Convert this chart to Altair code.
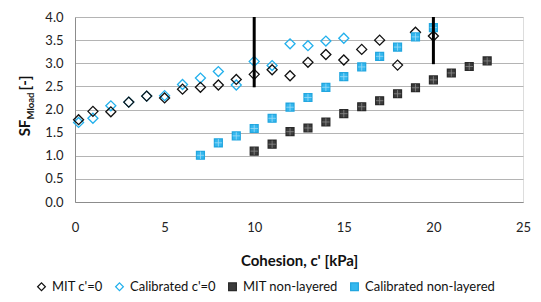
import altair as alt
import pandas as pd

# ---- data ----
mit_c0_x = [0.2, 1, 2, 3, 4, 5, 6, 7, 8, 9, 10, 11, 12, 13, 14, 15, 16, 17, 18, 19, 20]
mit_c0_y = [1.78, 1.96, 1.95, 2.16, 2.29, 2.25, 2.44, 2.48, 2.53, 2.65, 2.76, 2.86, 2.73,
            3.02, 3.19, 3.07, 3.30, 3.50, 2.96, 3.67, 3.59]
cal_c0_x = [0.2, 1, 2, 3, 4, 5, 6, 7, 8, 9, 10, 11, 12, 13, 14, 15]
cal_c0_y = [1.72, 1.81, 2.08, 2.16, 2.29, 2.30, 2.54, 2.68, 2.82, 2.53, 3.04, 2.95, 3.42,
            3.38, 3.48, 3.54]
mit_nl_x = [10, 11, 12, 13, 14, 15, 16, 17, 18, 19, 20, 21, 22, 23]
mit_nl_y = [1.10, 1.25, 1.52, 1.60, 1.73, 1.91, 2.06, 2.19, 2.34, 2.47, 2.64, 2.79, 2.93, 3.05]
cal_nl_x = [7, 8, 9, 10, 11, 12, 13, 14, 15, 16, 17, 18, 19, 20]
cal_nl_y = [1.01, 1.28, 1.43, 1.59, 1.81, 2.05, 2.26, 2.48, 2.71, 2.92, 3.15, 3.35, 3.57, 3.77]
rule_x = [10, 20]
rule_top = [4.0, 4.0]
rule_bottom = [2.48, 2.98]
x_ticks = [0, 5, 10, 15, 20, 25]
y_ticks = [0, 0.5, 1, 1.5, 2, 2.5, 3, 3.5, 4]

series = ["MIT c'=0", "Calibrated c'=0", "MIT non-layered", "Calibrated non-layered"]

frames = []
for name, xs, ys in [(series[0], mit_c0_x, mit_c0_y), (series[1], cal_c0_x, cal_c0_y),
                     (series[2], mit_nl_x, mit_nl_y), (series[3], cal_nl_x, cal_nl_y)]:
    frames.append(pd.DataFrame({"c": xs, "sf": ys, "series": name}))
df = pd.concat(frames, ignore_index=True)
df["order"] = df["series"].map({series[1]: 0, series[0]: 1, series[2]: 2, series[3]: 3})
df = df.sort_values("order")
sq = df[df["series"].isin(series[2:])]
rules = pd.DataFrame({"c": rule_x, "sf": rule_top, "bottom": rule_bottom})

FONT = "Lato"
xscale = alt.Scale(domain=[0, 25], nice=False)
yscale = alt.Scale(domain=[0, 4], nice=False)

xaxis = alt.Axis(values=x_ticks, grid=False, ticks=False, domainColor="#8c8c8c",
                 labelFont=FONT, labelFontSize=13, labelColor="#222222", labelPadding=19,
                 labelFlush=False, labelOverlap=False,
                 title="Cohesion, c' [kPa]", titleFont=FONT, titleFontSize=15, titleFontWeight="bold",
                 titleColor="#111111", titlePadding=19)
yaxis = alt.Axis(values=y_ticks, format=".1f", grid=True,
                 gridColor="#b4b4b4", gridWidth=1, ticks=False, domainColor="#8c8c8c",
                 labelFont=FONT, labelFontSize=13, labelColor="#222222", labelPadding=12,
                 labelFlush=False, labelOverlap=False, title=None)

X = alt.X("c:Q", scale=xscale, axis=xaxis)
Y = alt.Y("sf:Q", scale=yscale, axis=yaxis)

is_diamond = alt.FieldOneOfPredicate(field="series", oneOf=series[:2])

pts = alt.Chart(df).mark_point(strokeWidth=1.3, opacity=1).encode(
    x=X, y=Y,
    shape=alt.Shape("series:N", scale=alt.Scale(domain=series,
                    range=["diamond", "diamond", "square", "square"]), legend=alt.Legend(
        title=None, orient="none", legendX=-40, legendY=263, direction="horizontal", columns=4,
        labelFont=FONT, labelFontSize=13, labelColor="#111111", symbolSize=60,
        symbolStrokeWidth=1.2, labelOffset=4, columnPadding=10)),
    stroke=alt.Stroke("series:N", scale=alt.Scale(domain=series,
                      range=["#111111", "#22b0ec", "#2a2a2a", "#22a6df"])),
    fill=alt.Fill("series:N", scale=alt.Scale(domain=series,
                  range=["transparent", "transparent", "#3c3c3c", "#35b8ef"])),
    size=alt.condition(is_diamond, alt.value(100), alt.value(62)),
    order=alt.Order("order:Q"),
)

grid = alt.Chart(sq).mark_point(shape="M-1,0L1,0M0,-1L0,1", size=56, strokeWidth=0.8,
                                filled=False, opacity=1).encode(
    x=X, y=Y,
    stroke=alt.condition(alt.datum.series == series[2], alt.value("#8a8a8a"), alt.value("#9edcf7")),
)

rl = alt.Chart(rules).mark_rule(color="#000000", strokeWidth=3).encode(
    x=X, y=Y, y2="bottom:Q",
)

t1 = alt.Chart(pd.DataFrame({"t": ["SF"]})).mark_text(
    angle=270, font=FONT, fontSize=15, fontWeight="bold", color="#111111",
    align="center", baseline="middle").encode(text="t:N", x=alt.value(-50), y=alt.value(111))
t2 = alt.Chart(pd.DataFrame({"t": ["Mload"]})).mark_text(
    angle=270, font=FONT, fontSize=9.5, fontWeight="bold", color="#111111",
    align="center", baseline="middle").encode(text="t:N", x=alt.value(-44), y=alt.value(89))
t3 = alt.Chart(pd.DataFrame({"t": ["[-]"]})).mark_text(
    angle=270, font=FONT, fontSize=15, fontWeight="bold", color="#111111",
    align="center", baseline="middle").encode(text="t:N", x=alt.value(-50), y=alt.value(66))

chart = alt.layer(pts, grid, rl, t1, t2, t3).properties(
    width=448, height=185,
    autosize=alt.AutoSizeParams(type="none"),
    padding={"left": 67, "top": 9, "right": 10, "bottom": 92},
).configure_view(stroke=None).configure(background="white")

chart.save("out.html", embed_options={"renderer": "svg", "actions": False})
